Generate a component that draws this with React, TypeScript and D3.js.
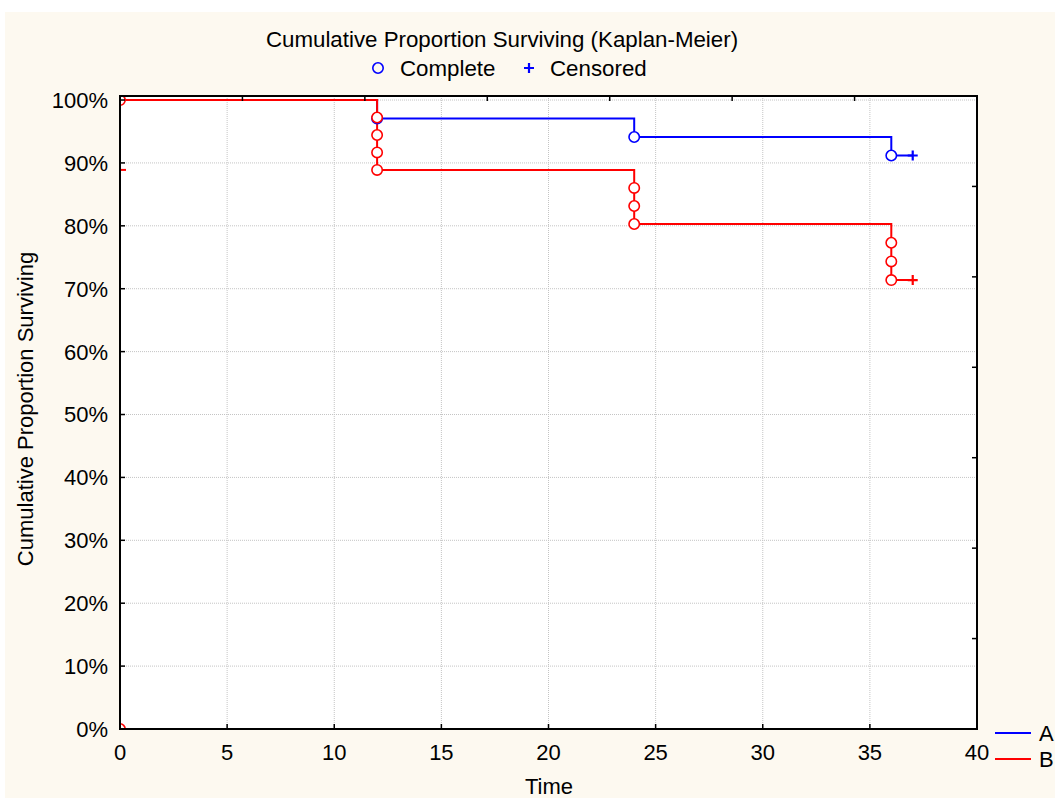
import React from "react";
import * as d3 from "d3";

// Kaplan-Meier estimates per group
const groupATimes = [0, 12, 24, 36, 37];
const groupASurv = [1.0, 0.9706, 0.9412, 0.9118, 0.9118];
const groupAComplete = [
  [12, 0.9706],
  [24, 0.9412],
  [36, 0.9118],
];
const groupACensored = [[37, 0.9118]];

const groupBTimes = [0, 12, 24, 36, 37];
const groupBSurv = [1.0, 0.8889, 0.8029, 0.7137, 0.7137];
const groupBComplete = [
  [0, 1.0],
  [0, 0.0],
  [12, 0.9722],
  [12, 0.9444],
  [12, 0.9167],
  [12, 0.8889],
  [24, 0.8602],
  [24, 0.8315],
  [24, 0.8029],
  [36, 0.7731],
  [36, 0.7434],
  [36, 0.7137],
];
const groupBCensored = [[37, 0.7137]];
const groupBStub = [
  [0, 0.8889],
  [0.28, 0.8889],
];

const xTicks = [0, 5, 10, 15, 20, 25, 30, 35, 40];
const yTicks = [0, 0.1, 0.2, 0.3, 0.4, 0.5, 0.6, 0.7, 0.8, 0.9, 1.0];
const minorTickCount = 7;

const seriesNames = ["A", "B"];
const seriesColors = ["#0000ff", "#ff0000"];

const W = 1055;
const H = 798;
const left = 120;
const right = 977;
const top = 96;
const bottom = 729;
const yMax = 1.0064;
const font = "'Liberation Sans', Arial, Helvetica, sans-serif";

export default function App() {
  const x = d3.scaleLinear().domain([0, 40]).range([left, right]);
  const y = d3.scaleLinear().domain([0, yMax]).range([bottom, top]);
  const xMinor = d3.scaleLinear().domain([0, minorTickCount]).range([left, right]);
  const yMinor = d3.scaleLinear().domain([0, minorTickCount]).range([bottom, top]);
  const minor = d3.range(1, minorTickCount);

  const makePath = (times: number[], surv: number[]) =>
    d3
      .line<number>()
      .x((t) => x(t))
      .y((_, i) => y(surv[i]))
      .curve(d3.curveStepAfter)(times) as string;

  const pctFmt = d3.format(".0%");

  const series = [
    { times: groupATimes, surv: groupASurv, complete: groupAComplete, censored: groupACensored },
    { times: groupBTimes, surv: groupBSurv, complete: groupBComplete, censored: groupBCensored },
  ];

  return (
    <svg
      width={W}
      height={H}
      style={{ position: "absolute", left: 0, top: 0, background: "#ffffff" }}
      fontFamily={font}
    >
      <defs>
        <clipPath id="plotClip">
          <rect x={left} y={top} width={right - left} height={bottom - top} />
        </clipPath>
      </defs>
      <rect x={5} y={12} width={W - 5} height={H - 12} fill="#fdf9f0" />
      <rect x={left} y={top} width={right - left} height={bottom - top} fill="#ffffff" />

      {/* grid */}
      {xTicks.slice(1, -1).map((t) => (
        <line
          key={"gx" + t}
          x1={x(t)}
          x2={x(t)}
          y1={top}
          y2={bottom}
          stroke="#c4c4c4"
          strokeWidth={1}
          strokeDasharray="1,1"
        />
      ))}
      {yTicks.slice(1).map((t) => (
        <line
          key={"gy" + t}
          x1={left}
          x2={right}
          y1={y(t)}
          y2={y(t)}
          stroke="#c4c4c4"
          strokeWidth={1}
          strokeDasharray="1,1"
        />
      ))}

      {/* survival curves and markers */}
      <g clipPath="url(#plotClip)">
        {series.map((s, i) => (
          <path
            key={"p" + i}
            d={makePath(s.times, s.surv)}
            fill="none"
            stroke={seriesColors[i]}
            strokeWidth={2}
          />
        ))}
        <path
          d={d3.line()(groupBStub.map(([t, v]) => [x(t), y(v)]))!}
          stroke={seriesColors[1]}
          strokeWidth={2}
          fill="none"
        />
        {series.map((s, i) =>
          s.complete.map(([t, v], j) => (
            <circle
              key={"c" + i + "-" + j}
              cx={x(t)}
              cy={y(v)}
              r={5.2}
              fill="#ffffff"
              stroke={seriesColors[i]}
              strokeWidth={1.6}
            />
          ))
        )}
        {series.map((s, i) =>
          s.censored.map(([t, v], j) => (
            <path
              key={"x" + i + "-" + j}
              d={`M${x(t) - 5},${y(v)}H${x(t) + 5}M${x(t)},${y(v) - 5}V${y(v) + 5}`}
              stroke={seriesColors[i]}
              strokeWidth={2.2}
              fill="none"
            />
          ))
        )}
      </g>

      {/* ticks */}
      {xTicks.map((t) => (
        <line key={"tx" + t} x1={x(t)} x2={x(t)} y1={bottom} y2={bottom - 5} stroke="#000" strokeWidth={1.5} />
      ))}
      {yTicks.map((t) => (
        <line key={"ty" + t} x1={left} x2={left + 5} y1={y(t)} y2={y(t)} stroke="#000" strokeWidth={1.5} />
      ))}
      {minor.map((k) => (
        <line key={"mt" + k} x1={xMinor(k)} x2={xMinor(k)} y1={top} y2={top + 5} stroke="#000" strokeWidth={1.5} />
      ))}
      {minor.map((k) => (
        <line key={"mr" + k} x1={right} x2={right - 5} y1={yMinor(k)} y2={yMinor(k)} stroke="#000" strokeWidth={1.5} />
      ))}

      {/* frame */}
      <rect
        x={left}
        y={top}
        width={right - left}
        height={bottom - top}
        fill="none"
        stroke="#000"
        strokeWidth={2}
      />

      {/* tick labels */}
      {xTicks.map((t) => (
        <text key={"lx" + t} x={x(t)} y={760} textAnchor="middle" fontSize={22} fill="#000">
          {t}
        </text>
      ))}
      {yTicks.map((t) => (
        <text
          key={"ly" + t}
          x={108}
          y={y(t)}
          dy="0.36em"
          textAnchor="end"
          fontSize={22}
          fill="#000"
        >
          {pctFmt(t)}
        </text>
      ))}

      {/* axis titles */}
      <text x={549} y={794} textAnchor="middle" fontSize={22} fill="#000">
        Time
      </text>
      <text
        transform={`translate(33,409) rotate(-90)`}
        textAnchor="middle"
        fontSize={22}
        fill="#000"
      >
        Cumulative Proportion Surviving
      </text>

      {/* title and marker key */}
      <text x={502} y={47} textAnchor="middle" fontSize={22.3} fill="#000">
        Cumulative Proportion Surviving (Kaplan-Meier)
      </text>
      <circle cx={378} cy={68} r={5.2} fill="none" stroke={seriesColors[0]} strokeWidth={1.6} />
      <text x={400} y={76} fontSize={22.3} fill="#000">
        Complete
      </text>
      <path d="M524,68H534M529,63V73" stroke={seriesColors[0]} strokeWidth={2.2} />
      <text x={550} y={76} fontSize={22.3} fill="#000">
        Censored
      </text>

      {/* series legend */}
      {seriesNames.map((n, i) => (
        <g key={"lg" + n}>
          <line x1={995} x2={1031} y1={733 + i * 26} y2={733 + i * 26} stroke={seriesColors[i]} strokeWidth={2} />
          <text x={1039} y={741 + i * 26} fontSize={22} fill="#000">
            {n}
          </text>
        </g>
      ))}
    </svg>
  );
}
